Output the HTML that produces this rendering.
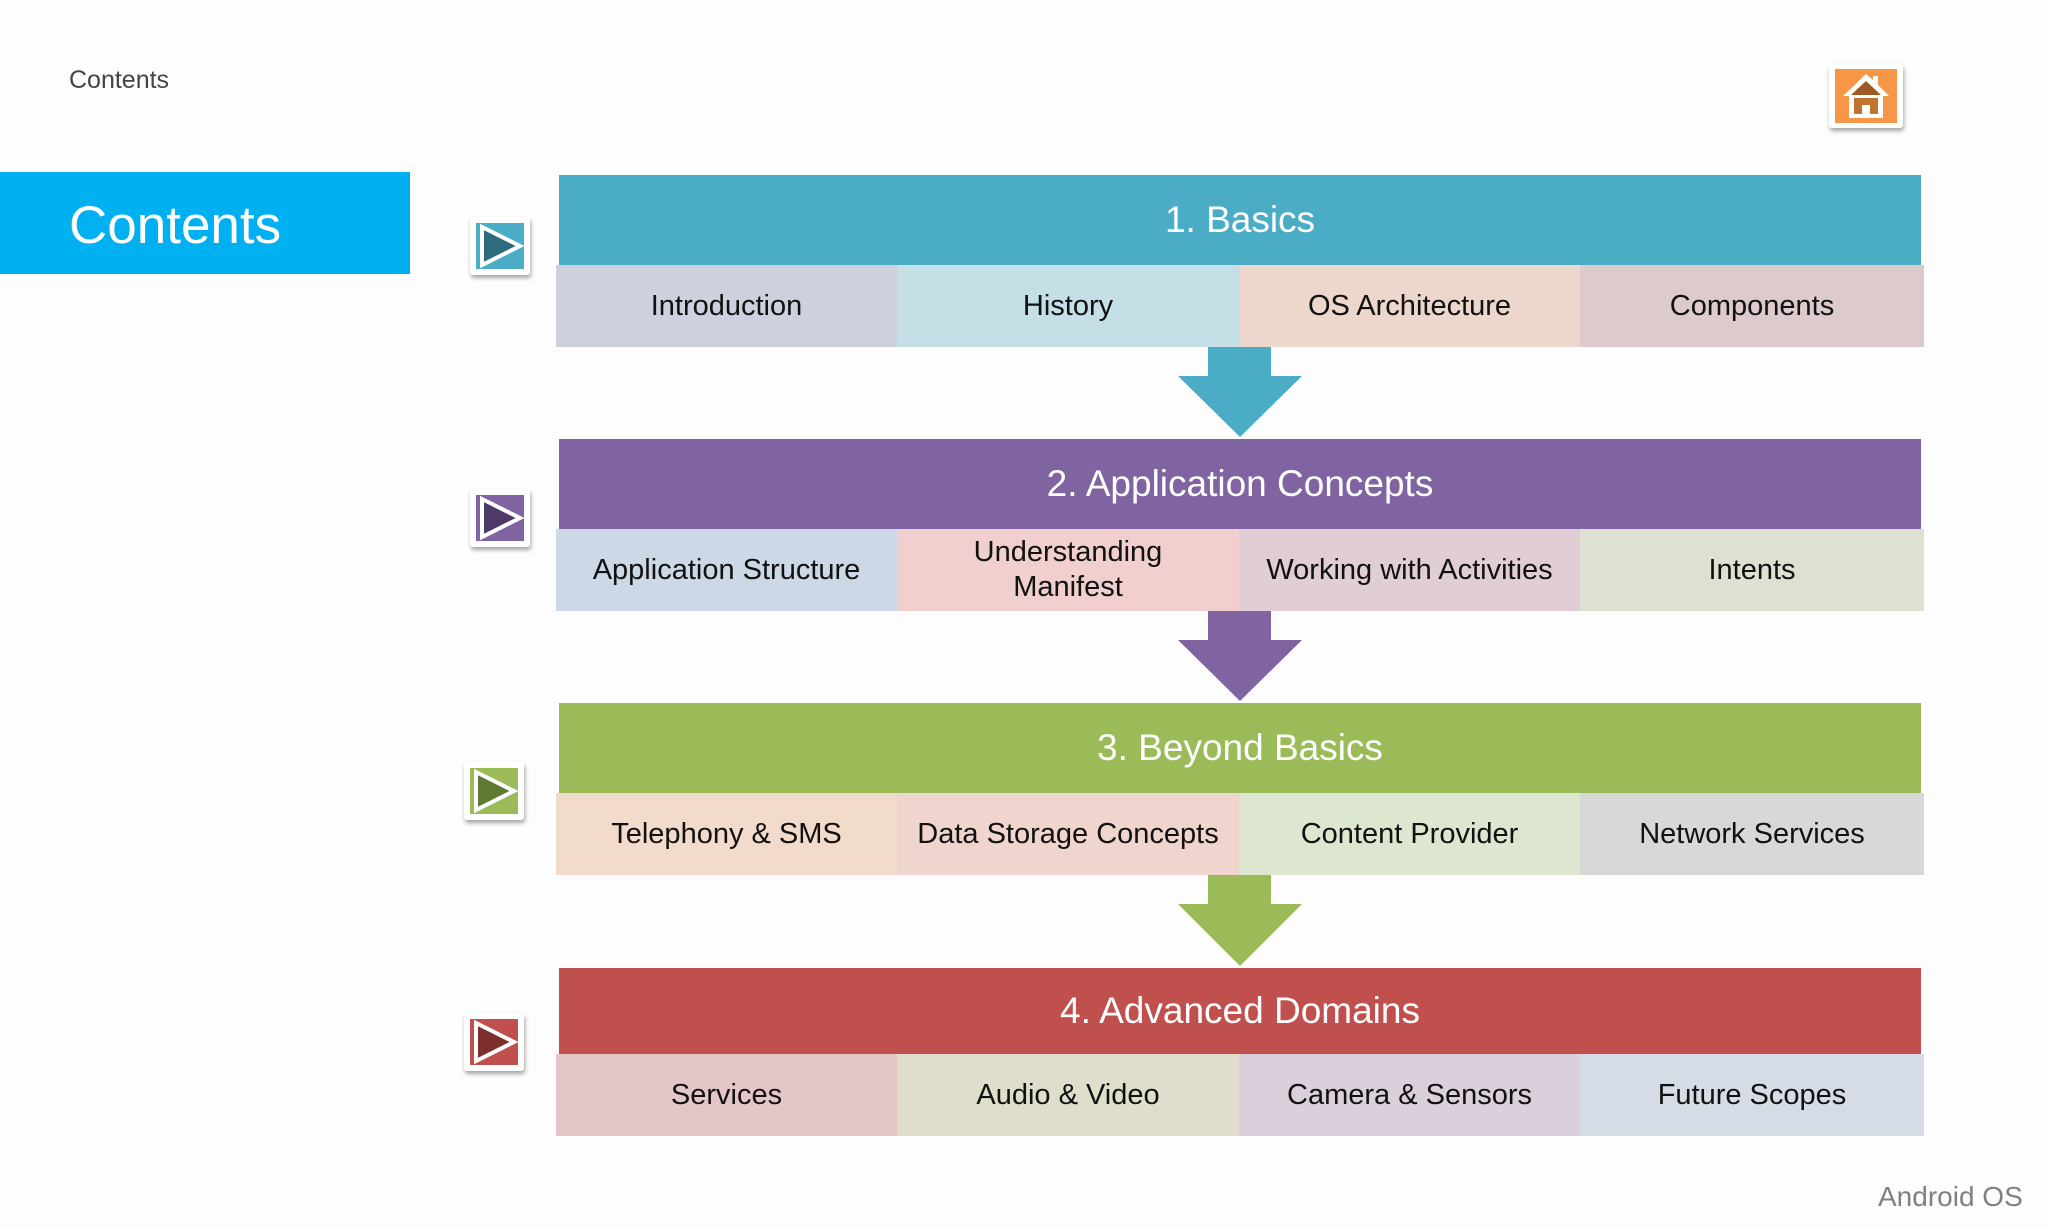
<!DOCTYPE html>
<html><head><meta charset="utf-8"><style>
body{margin:0;width:2048px;height:1229px;background:#fdfdfd;position:relative;overflow:hidden;font-family:"Liberation Sans",sans-serif}
.a{position:absolute}
.h{position:absolute;left:559px;width:1362px;color:#fff;font-size:37px;display:flex;align-items:center;justify-content:center}
.s{position:absolute;display:flex;align-items:center;justify-content:center;text-align:center;font-size:29px;color:#111;line-height:35px}
.p{position:absolute;width:60px;height:58px;background:#fff;box-shadow:1px 3px 4px rgba(0,0,0,.35);border-radius:3px}
</style></head><body>
<div class="a" style="left:69px;top:66px;font-size:25px;color:#444">Contents</div>
<div class="a" style="left:0;top:172px;width:410px;height:102px;background:#00B0F0;color:#fff;font-size:53px;line-height:108px;text-indent:69px">Contents</div>
<div class="a" style="left:1829px;top:64px;width:74px;height:64px;background:#fff;box-shadow:1px 3px 4px rgba(0,0,0,.35);border-radius:3px">
<svg width="74" height="64" viewBox="0 0 74 64"><rect x="6" y="5" width="62" height="54" fill="#F79646"/>
<path d="M37 10 L14 32 H20 V54 H54 V32 H60 L49 21 V12 H44 V16 Z" fill="#fff"/>
<path d="M37 17 L22 31 H52 Z" fill="#9B5A26"/><rect x="25" y="34" width="24" height="16" fill="#C0742E"/><rect x="33" y="41" width="8" height="11" fill="#fff"/></svg></div>

<div class="p" style="left:470px;top:217px"><svg width="60" height="58"><rect x="6" y="6" width="48" height="46" fill="#4BACC6"/><path d="M12 10 L50 29 L12 48 Z" fill="#2E6B7E" stroke="#fff" stroke-width="4"/></svg></div>
<div class="p" style="left:470px;top:489px"><svg width="60" height="58"><rect x="6" y="6" width="48" height="46" fill="#8064A2"/><path d="M12 10 L50 29 L12 48 Z" fill="#4E3A68" stroke="#fff" stroke-width="4"/></svg></div>
<div class="p" style="left:464px;top:762px"><svg width="60" height="58"><rect x="6" y="6" width="48" height="46" fill="#9BBB59"/><path d="M12 10 L50 29 L12 48 Z" fill="#5F7A35" stroke="#fff" stroke-width="4"/></svg></div>
<div class="p" style="left:464px;top:1013px"><svg width="60" height="58"><rect x="6" y="6" width="48" height="46" fill="#C0504D"/><path d="M12 10 L50 29 L12 48 Z" fill="#7E2F2D" stroke="#fff" stroke-width="4"/></svg></div>

<div class="h" style="top:175px;height:90px;background:#4BACC6">1. Basics</div>
<div class="s" style="left:556px;top:265px;width:341px;height:82px;background:#CDD1DE">Introduction</div>
<div class="s" style="left:897px;top:265px;width:342px;height:82px;background:#C5DFE6">History</div>
<div class="s" style="left:1239px;top:265px;width:341px;height:82px;background:#EDD7CC">OS Architecture</div>
<div class="s" style="left:1580px;top:265px;width:344px;height:82px;background:#DDCACC">Components</div>
<svg class="a" style="left:1178px;top:347px" width="124" height="92"><path d="M30 0 H93 V29 H124 L62 90 L0 29 H30 Z" fill="#4BACC6"/></svg>

<div class="h" style="top:439px;height:90px;background:#8064A2">2. Application Concepts</div>
<div class="s" style="left:556px;top:529px;width:341px;height:82px;background:#CCD8E6">Application Structure</div>
<div class="s" style="left:897px;top:529px;width:342px;height:82px;background:#F0CFCE">Understanding<br>Manifest</div>
<div class="s" style="left:1239px;top:529px;width:341px;height:82px;background:#E1CDD5">Working with Activities</div>
<div class="s" style="left:1580px;top:529px;width:344px;height:82px;background:#DDE1D1">Intents</div>
<svg class="a" style="left:1178px;top:611px" width="124" height="92"><path d="M30 0 H93 V29 H124 L62 90 L0 29 H30 Z" fill="#8064A2"/></svg>

<div class="h" style="top:703px;height:90px;background:#9BBB59">3. Beyond Basics</div>
<div class="s" style="left:556px;top:793px;width:341px;height:82px;background:#F3DBCB">Telephony &amp; SMS</div>
<div class="s" style="left:897px;top:793px;width:342px;height:82px;background:#F0D4CE">Data Storage Concepts</div>
<div class="s" style="left:1239px;top:793px;width:341px;height:82px;background:#DDE7D0">Content Provider</div>
<div class="s" style="left:1580px;top:793px;width:344px;height:82px;background:#D8D8D8">Network Services</div>
<svg class="a" style="left:1178px;top:875px" width="124" height="93"><path d="M30 0 H93 V29 H124 L62 91 L0 29 H30 Z" fill="#9BBB59"/></svg>

<div class="h" style="top:968px;height:86px;background:#C0504D">4. Advanced Domains</div>
<div class="s" style="left:556px;top:1054px;width:341px;height:82px;background:#E5C6C8">Services</div>
<div class="s" style="left:897px;top:1054px;width:342px;height:82px;background:#DFDECA">Audio &amp; Video</div>
<div class="s" style="left:1239px;top:1054px;width:341px;height:82px;background:#DCCFDC">Camera &amp; Sensors</div>
<div class="s" style="left:1580px;top:1054px;width:344px;height:82px;background:#D5DCE5">Future Scopes</div>

<div class="a" style="left:1878px;top:1181px;font-size:28px;color:#808080">Android OS</div>
</body></html>
